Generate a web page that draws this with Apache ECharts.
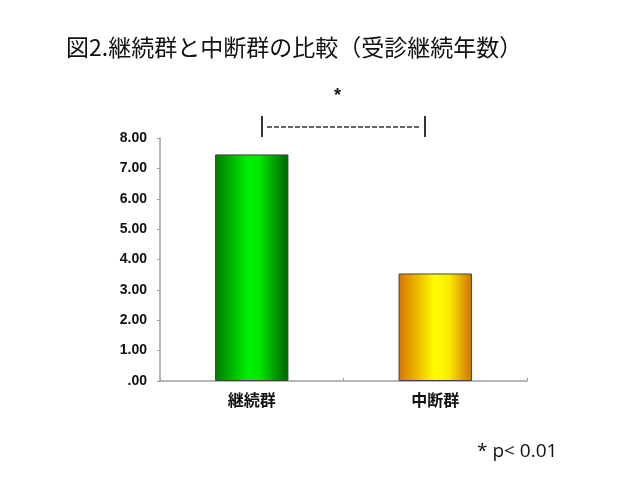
<!DOCTYPE html>
<html><head><meta charset="utf-8">
<script src="https://cdn.jsdelivr.net/npm/echarts@6/dist/echarts.min.js"></script>
<style>html,body{margin:0;padding:0;background:#fff;}#c{width:620px;height:479px;}</style>
</head><body><div id="c"></div>
<script>
const categories = ['継続群', '中断群'];
const values = [7.46, 3.54];
const yTicks = [0, 1, 2, 3, 4, 5, 6, 7, 8];
const titleText = '図2.継続群と中断群の比較（受診継続年数）';
const footnote = '* p< 0.01';

const greenGrad = new echarts.graphic.LinearGradient(0, 0, 1, 0, [
  {offset: 0, color: '#007a00'},
  {offset: 0.45, color: '#00f000'},
  {offset: 0.6, color: '#00e800'},
  {offset: 1, color: '#006000'}
]);
const orangeGrad = new echarts.graphic.LinearGradient(0, 0, 1, 0, [
  {offset: 0, color: '#d77400'},
  {offset: 0.5, color: '#ffff00'},
  {offset: 0.7, color: '#f8e800'},
  {offset: 1, color: '#d07000'}
]);

const chart = echarts.init(document.getElementById('c'));
chart.setOption({
  animation: false,
  title: {
    text: titleText, left: 61, top: 31,
    textStyle: {fontFamily: 'Noto Sans CJK JP', fontSize: 23, fontWeight: 'normal', color: '#111'}
  },
  grid: {left: 160, right: 93, top: 138, bottom: 98},
  xAxis: {
    type: 'category', data: categories,
    axisLine: {lineStyle: {color: '#a0a0a0', width: 1.5}},
    axisTick: {show: true, inside: true, length: 3, lineStyle: {color: '#a0a0a0'}},
    axisLabel: {margin: 11, fontFamily: 'Noto Sans CJK JP', fontSize: 16, fontWeight: 'bold', color: '#111'}
  },
  yAxis: {
    type: 'value', min: yTicks[0], max: yTicks[yTicks.length - 1], interval: 1,
    axisLine: {show: true, lineStyle: {color: '#a0a0a0', width: 1.5}},
    axisTick: {show: true, length: 3, lineStyle: {color: '#a0a0a0'}},
    splitLine: {show: false},
    axisLabel: {
      margin: 13, fontFamily: 'Liberation Sans', fontSize: 14, fontWeight: 'bold', color: '#111',
      formatter: v => v === 0 ? '.00' : v.toFixed(2)
    }
  },
  series: [{
    type: 'bar', barWidth: '40%',
    data: values.map((v, i) => ({value: v, itemStyle: {color: i === 0 ? greenGrad : orangeGrad}})),
    itemStyle: {borderColor: '#444', borderWidth: 1}
  }],
  graphic: [
    {type: 'text', left: 334, top: 87, style: {text: '*', font: 'bold 18px "Liberation Sans"', fill: '#111'}},
    {type: 'line', shape: {x1: 262, y1: 116, x2: 262, y2: 137}, style: {stroke: '#333', lineWidth: 2}},
    {type: 'line', shape: {x1: 425, y1: 116, x2: 425, y2: 137}, style: {stroke: '#333', lineWidth: 2}},
    {type: 'line', shape: {x1: 267, y1: 127, x2: 421, y2: 127}, style: {stroke: '#333', lineWidth: 1.3, lineDash: [5, 2]}},
    {type: 'text', left: 477, top: 442, style: {text: footnote, font: '19px "Open Sans"', fill: '#111'}}
  ]
});
</script></body></html>
